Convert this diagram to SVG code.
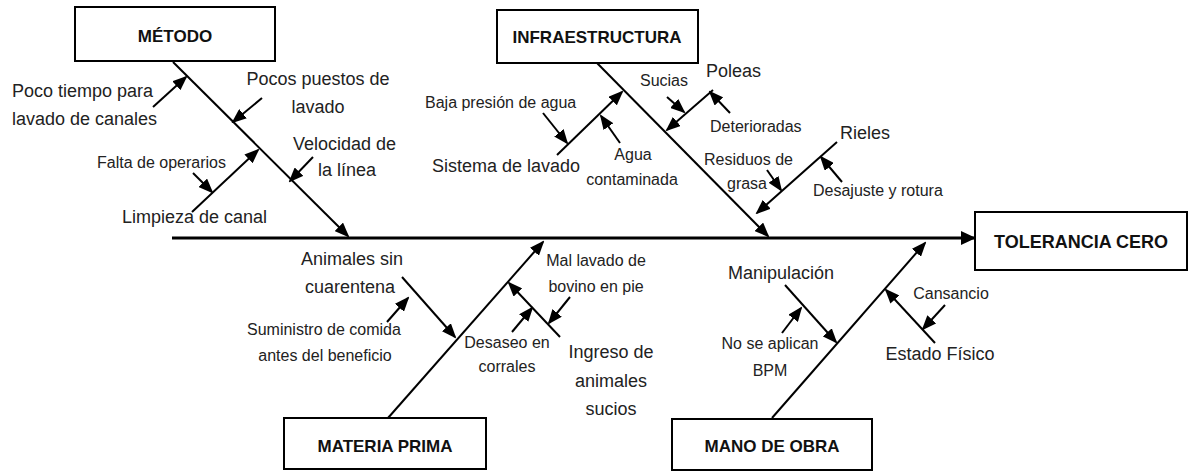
<svg xmlns="http://www.w3.org/2000/svg" width="1191" height="471" viewBox="0 0 1191 471">
<style>
.box{fill:#fff;stroke:#000;stroke-width:2}
.title{font-family:"Liberation Sans",Arial,sans-serif;font-weight:bold;font-size:17px;fill:#111;text-anchor:middle}
.lg{font-family:"Liberation Sans",Arial,sans-serif;font-size:18px;fill:#222}
.sm{font-family:"Liberation Sans",Arial,sans-serif;font-size:16px;fill:#222}
.c{text-anchor:middle}
.ar{stroke:#000;stroke-width:2;fill:none;marker-end:url(#ah)}
.sp{stroke:#000;stroke-width:3;fill:none;marker-end:url(#ahb)}
</style>
<defs>
<marker id="ah" markerUnits="userSpaceOnUse" markerWidth="15" markerHeight="12" refX="13" refY="6" orient="auto"><path d="M0,0 L15,6 L0,12 z" fill="#000"/></marker>
<marker id="ahb" markerUnits="userSpaceOnUse" markerWidth="15" markerHeight="14" refX="14" refY="7" orient="auto"><path d="M0,0 L15,7 L0,14 z" fill="#000"/></marker>
</defs>
<rect width="1191" height="471" fill="#fff"/>

<g id="connectors">
<line class="sp" x1="172" y1="238" x2="975" y2="238"/>
<!-- Metodo -->
<line class="ar" x1="173" y1="62" x2="348" y2="236"/>
<line class="ar" x1="153" y1="107" x2="186" y2="77"/>
<line class="ar" x1="262" y1="98" x2="233" y2="122"/>
<line class="ar" x1="313" y1="157" x2="290" y2="181"/>
<line class="ar" x1="192" y1="212" x2="258" y2="150"/>
<line class="ar" x1="193" y1="173" x2="212" y2="192"/>
<!-- Infraestructura -->
<line class="ar" x1="597" y1="63" x2="768" y2="236"/>
<line class="ar" x1="543" y1="113" x2="567" y2="143"/>
<line class="ar" x1="557" y1="155" x2="622" y2="92"/>
<line class="ar" x1="620" y1="143" x2="601" y2="116"/>
<line class="ar" x1="713" y1="90" x2="667" y2="130"/>
<line class="ar" x1="667" y1="97" x2="684" y2="112"/>
<line class="ar" x1="730" y1="113" x2="710" y2="92"/>
<line class="ar" x1="837" y1="142" x2="757" y2="213"/>
<line class="ar" x1="767" y1="170" x2="781" y2="190"/>
<line class="ar" x1="842" y1="182" x2="821" y2="157"/>
<!-- Materia prima -->
<line class="ar" x1="388" y1="418" x2="543" y2="242"/>
<line class="ar" x1="402" y1="277" x2="455" y2="337"/>
<line class="ar" x1="387" y1="322" x2="408" y2="298"/>
<line class="ar" x1="560" y1="337" x2="509" y2="283"/>
<line class="ar" x1="570" y1="297" x2="549" y2="323"/>
<line class="ar" x1="512" y1="332" x2="532" y2="308"/>
<!-- Mano de obra -->
<line class="ar" x1="772" y1="418" x2="925" y2="243"/>
<line class="ar" x1="785" y1="285" x2="836" y2="342"/>
<line class="ar" x1="782" y1="333" x2="801" y2="308"/>
<line class="ar" x1="935" y1="343" x2="886" y2="290"/>
<line class="ar" x1="945" y1="305" x2="923" y2="329"/>
</g>

<g id="metodo">
<rect class="box" x="75" y="7" width="200" height="54"/>
<text class="title" x="175" y="42">MÉTODO</text>
<text class="lg" x="12" y="97">Poco tiempo para</text>
<text class="lg" x="12" y="125">lavado de canales</text>
<text class="lg c" x="318" y="85">Pocos puestos de</text>
<text class="lg c" x="318" y="113">lavado</text>
<text class="lg" x="293" y="150">Velocidad de</text>
<text class="lg c" x="347" y="176">la línea</text>
<text class="sm" x="97" y="168">Falta de operarios</text>
<text class="lg" x="122" y="223">Limpieza de canal</text>
</g>

<g id="infraestructura">
<rect class="box" x="497" y="10" width="201" height="53"/>
<text class="title" x="597" y="43">INFRAESTRUCTURA</text>
<text class="sm" x="425" y="108">Baja presión de agua</text>
<text class="lg" x="432" y="172">Sistema de lavado</text>
<text class="sm c" x="633" y="160">Agua</text>
<text class="sm c" x="632" y="185">contaminada</text>
<text class="sm c" x="664" y="86">Sucias</text>
<text class="lg" x="706" y="77">Poleas</text>
<text class="sm" x="710" y="132">Deterioradas</text>
<text class="sm" x="704" y="165">Residuos de</text>
<text class="sm c" x="747" y="189">grasa</text>
<text class="lg" x="840" y="139">Rieles</text>
<text class="sm" x="813" y="196">Desajuste y rotura</text>
</g>

<g id="tolerancia">
<rect class="box" x="975" y="212" width="212" height="58"/>
<text class="title" x="1081" y="248" style="font-size:18px">TOLERANCIA CERO</text>
</g>

<g id="materia">
<rect class="box" x="284" y="418" width="202" height="51"/>
<text class="title" x="385" y="452">MATERIA PRIMA</text>
<text class="lg c" x="352" y="265">Animales sin</text>
<text class="lg c" x="350" y="293">cuarentena</text>
<text class="sm" x="247" y="335">Suministro de comida</text>
<text class="sm c" x="325" y="361">antes del beneficio</text>
<text class="sm c" x="596" y="266">Mal lavado de</text>
<text class="sm c" x="596" y="292">bovino en pie</text>
<text class="sm c" x="507" y="348">Desaseo en</text>
<text class="sm c" x="507" y="372">corrales</text>
<text class="lg c" x="611" y="358">Ingreso de</text>
<text class="lg c" x="611" y="387">animales</text>
<text class="lg c" x="611" y="415">sucios</text>
</g>

<g id="mano">
<rect class="box" x="672" y="419" width="200" height="51"/>
<text class="title" x="772" y="452">MANO DE OBRA</text>
<text class="lg c" x="781" y="279">Manipulación</text>
<text class="sm c" x="770" y="349">No se aplican</text>
<text class="sm c" x="770" y="376">BPM</text>
<text class="sm c" x="951" y="299">Cansancio</text>
<text class="lg c" x="940" y="360">Estado Físico</text>
</g>
</svg>
